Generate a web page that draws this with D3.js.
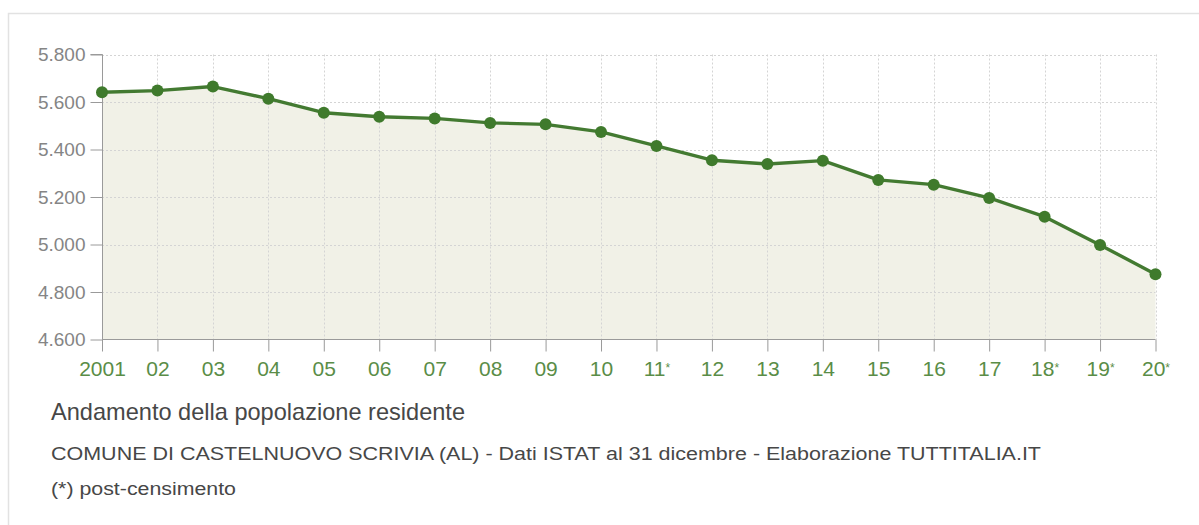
<!DOCTYPE html>
<html><head><meta charset="utf-8">
<script src="https://cdn.jsdelivr.net/npm/d3@7"></script>
<style>
html,body{margin:0;padding:0;background:#fff;}
svg{display:block;font-family:"Liberation Sans",Arial,sans-serif;}
</style></head>
<body>
<svg id="c" width="1199" height="525"></svg>
<script>
const years = ["2001","02","03","04","05","06","07","08","09","10","11*","12","13","14","15","16","17","18*","19*","20*"];
const population = [5641,5648,5665,5614,5555,5538,5531,5512,5506,5474,5415,5355,5339,5353,5272,5252,5196,5117,4998,4875];
const yTicks = [4600,4800,5000,5200,5400,5600,5800];
const title = "Andamento della popolazione residente";
const subtitle = "COMUNE DI CASTELNUOVO SCRIVIA (AL) - Dati ISTAT al 31 dicembre - Elaborazione TUTTITALIA.IT";
const note = "(*) post-censimento";

const svg = d3.select("#c");
// outer frame
svg.append("rect").attr("x",8.5).attr("y",13.5).attr("width",1200).attr("height",560)
  .attr("fill","none").attr("stroke","#e2e2e2").attr("stroke-width",1.5);

const x = d3.scalePoint().domain(years).range([102,1155.5]);
const y = d3.scaleLinear().domain([4600,5800]).range([339.5,54.5]);
const fmtY = v => { const s = String(v); return s.slice(0,1)+"."+s.slice(1); };

// area
const area = d3.area().x((d,i)=>x(years[i])).y0(y(4600)).y1(d=>y(d));
svg.append("path").datum(population).attr("d",area).attr("fill","#f1f1e7");

// grid
const g = svg.append("g");
g.selectAll("line.h").data(yTicks.slice(1)).join("line")
  .attr("x1",102).attr("x2",1155.5).attr("y1",d=>Math.round(y(d))+0.5).attr("y2",d=>Math.round(y(d))+0.5)
  .attr("stroke","#d4d4d4").attr("stroke-width",1).attr("stroke-dasharray","2,2");
g.selectAll("line.v").data(years.slice(1)).join("line")
  .attr("x1",d=>Math.round(x(d))+0.5).attr("x2",d=>Math.round(x(d))+0.5).attr("y1",y(5800)).attr("y2",y(4600))
  .attr("stroke","#d4d4d4").attr("stroke-width",1).attr("stroke-dasharray","2,2");

// axes
const yAxis = d3.axisLeft(y).tickValues(yTicks).tickSize(12).tickPadding(5).tickFormat(fmtY);
const ya = svg.append("g").attr("transform","translate(102.5,0)").call(yAxis);
ya.select(".domain").attr("stroke","#9a9a9a").attr("d","M-12,54.5H0V339.5");
ya.selectAll(".tick line").attr("stroke","#9a9a9a");
ya.selectAll(".tick text").attr("fill","#858585").attr("font-size",19).attr("font-family","Liberation Sans, Arial, sans-serif");

const xAxis = d3.axisBottom(x).tickSize(12).tickPadding(10);
const xa = svg.append("g").attr("transform","translate(0,339.5)").call(xAxis);
xa.select(".domain").attr("stroke","#9a9a9a").attr("d","M102,0H1155.5");
xa.selectAll(".tick line").attr("stroke","#9a9a9a");
xa.selectAll(".tick text").attr("fill","#5a8d47").attr("font-size",21).attr("font-family","Liberation Sans, Arial, sans-serif")
  .each(function(d){
    if (d.endsWith("*")) {
      const t = d3.select(this);
      t.text(d.slice(0,-1));
      t.append("tspan").attr("font-size",12).attr("dy","-0.35em").text("*");
    }
  });

// line
const line = d3.line().x((d,i)=>x(years[i])).y(d=>y(d));
svg.append("path").datum(population).attr("d",line).attr("fill","none")
  .attr("stroke","#437a31").attr("stroke-width",3.4).attr("stroke-linejoin","round");
svg.selectAll("circle.p").data(population).join("circle")
  .attr("cx",(d,i)=>x(years[i])).attr("cy",d=>y(d)).attr("r",6).attr("fill","#3f7a2c");

// texts
svg.append("text").attr("x",51).attr("y",420).attr("font-size",24).attr("fill","#474747")
  .attr("textLength",414).attr("lengthAdjust","spacingAndGlyphs").text(title);
svg.append("text").attr("x",51).attr("y",460).attr("font-size",17.5).attr("fill","#474747")
  .attr("textLength",990).attr("lengthAdjust","spacingAndGlyphs").text(subtitle);
svg.append("text").attr("x",51).attr("y",495).attr("font-size",17.5).attr("fill","#474747")
  .attr("textLength",185).attr("lengthAdjust","spacingAndGlyphs").text(note);
</script>
</body></html>
